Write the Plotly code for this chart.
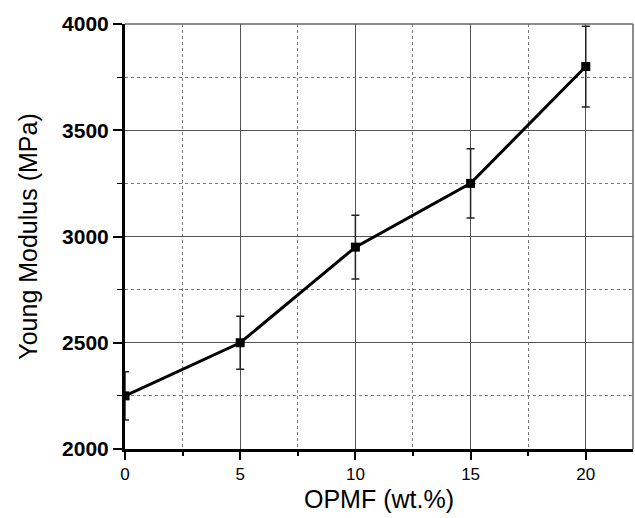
import plotly.graph_objects as go

opmf = [0, 5, 10, 15, 20]
modulus = [2250, 2500, 2950, 3250, 3800]
err = [113, 125, 150, 163, 190]

x_ticks = [0, 5, 10, 15, 20]
y_ticks = [2000, 2500, 3000, 3500, 4000]

fig = go.Figure()
fig.add_trace(go.Scatter(
    x=opmf, y=modulus, mode="lines+markers",
    line=dict(color="black", width=3),
    marker=dict(symbol="square", size=9, color="black"),
    error_y=dict(type="data", array=err, visible=True, color="#222222", thickness=1.5, width=4),
    showlegend=False,
))

font = "Arial"
fig.update_layout(
    width=635, height=518,
    margin=dict(l=125, r=2, t=24, b=69),
    plot_bgcolor="white", paper_bgcolor="white",
    font=dict(family=font, color="black"),
    shapes=[
        dict(type="line", xref="paper", yref="paper", x0=0, x1=1, y0=1, y1=1,
             line=dict(color="#666666", width=1.5), layer="below"),
        dict(type="line", xref="paper", yref="paper", x0=1, x1=1, y0=0, y1=1,
             line=dict(color="#666666", width=1.5), layer="below"),
    ],
)
fig.update_xaxes(
    range=[0, 22.05], tickvals=x_ticks, automargin=False,
    showline=True, linecolor="black", linewidth=3,
    ticks="outside", ticklen=8, tickwidth=2, tickcolor="black",
    showgrid=True, gridcolor="#555555", gridwidth=1,
    minor=dict(dtick=2.5, tick0=0, ticks="outside", ticklen=4, tickwidth=2, tickcolor="black",
               showgrid=True, gridcolor="#777777", griddash="dot", gridwidth=1),
    tickfont=dict(size=17),
    title_text="OPMF (wt.%)", title_font_size=25, title_standoff=8,
    zeroline=False,
)
fig.update_yaxes(
    range=[2000, 4000], tickvals=y_ticks, automargin=False,
    showline=True, linecolor="black", linewidth=3,
    ticks="outside", ticklen=9, tickwidth=2, tickcolor="black",
    showgrid=True, gridcolor="#555555", gridwidth=1,
    minor=dict(dtick=250, tick0=2000, ticks="outside", ticklen=5, tickwidth=1, tickcolor="black",
               showgrid=True, gridcolor="#777777", griddash="dot", gridwidth=1),
    tickfont=dict(size=21, weight="bold"),
    title_text="Young Modulus (MPa)", title_font_size=25, title_standoff=18,
    zeroline=False,
)

fig.write_html("out.html")
